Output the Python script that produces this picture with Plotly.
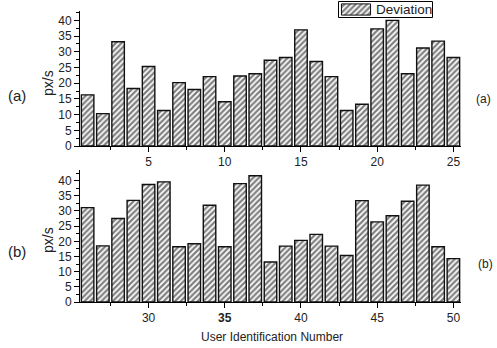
import plotly.graph_objects as go

# Data
users_a = list(range(1, 26))
dev_a = [16.3, 10.3, 33.2, 18.3, 25.3, 11.3, 20.2, 18.0, 22.1, 14.1,
         22.3, 23.0, 27.3, 28.2, 37.0, 26.9, 22.1, 11.3, 13.3, 37.3,
         40.0, 23.0, 31.2, 33.4, 28.2]
users_b = list(range(26, 51))
dev_b = [31.1, 18.5, 27.5, 33.5, 38.7, 39.6, 18.2, 19.2, 31.9, 18.2,
         39.0, 41.6, 13.2, 18.4, 20.3, 22.3, 18.4, 15.3, 33.4, 26.4,
         28.4, 33.2, 38.5, 18.2, 14.3]
ticks_a = [5, 10, 15, 20, 25]
ticks_b = [30, 35, 40, 45, 50]
ticktext_b = ["30", "<b>35</b>", "40", "45", "50"]
yticks = [0, 5, 10, 15, 20, 25, 30, 35, 40]
legend_name = "Deviation"
legend_key = [1]

FONT = "Liberation Sans, Arial, sans-serif"
W, H = 497, 348
ML, MR, MT, MB = 80, 36, 0, 46
PH = H - MT - MB
PW = W - ML - MR

def py(pix):
    return (H - MB - pix) / PH

def px(pix):
    return (pix - ML) / PW

pattern = dict(shape="/", fgcolor="black", bgcolor="white", size=4, solidity=0.55)
line = dict(color="#111", width=1.4)

fig = go.Figure()
fig.add_trace(go.Bar(x=users_a, y=dev_a, name=legend_name, width=0.82,
                     marker=dict(color="white", pattern=pattern, line=line),
                     xaxis="x", yaxis="y", showlegend=False))
fig.add_trace(go.Bar(x=users_b, y=dev_b, name=legend_name, width=0.82,
                     marker=dict(color="white", pattern=pattern, line=line),
                     xaxis="x2", yaxis="y2", showlegend=False))
# legend key swatch
fig.add_trace(go.Bar(x=[0], y=legend_key, width=1, name=legend_name,
                     marker=dict(color="white", pattern=pattern, line=dict(color="#111", width=1)),
                     xaxis="x3", yaxis="y3", showlegend=False, hoverinfo="skip"))

axcommon = dict(showline=True, linecolor="black", linewidth=1, ticks="outside",
                ticklen=5, tickcolor="black", tickwidth=1, showgrid=False,
                zeroline=False, tickfont=dict(family=FONT, size=12, color="#222"))
minor = dict(dtick=2.5, tick0=0, ticks="outside", ticklen=3, tickcolor="black")

fig.update_layout(
    width=W, height=H,
    margin=dict(l=ML, r=MR, t=MT, b=MB, autoexpand=False),
    paper_bgcolor="white", plot_bgcolor="rgba(0,0,0,0)",
    font=dict(family=FONT, size=12, color="#222"),
    showlegend=False,
    xaxis=dict(domain=[0, 1], range=[0.5, 25.5], anchor="y",
               tickvals=ticks_a, minor=minor, **axcommon),
    yaxis=dict(domain=[py(146), py(11)], range=[0, 43], anchor="x",
               tickvals=yticks, minor=minor, **axcommon),
    xaxis2=dict(domain=[0, 1], range=[25.5, 50.5], anchor="y2",
                tickvals=ticks_b, ticktext=ticktext_b, minor=minor, **axcommon),
    yaxis2=dict(domain=[0, py(170)], range=[0, 43.5], anchor="x2",
                tickvals=yticks, minor=minor, **axcommon),
    xaxis3=dict(domain=[px(340), px(372)], range=[-0.55, 0.55], visible=False,
                anchor="y3", fixedrange=True),
    yaxis3=dict(domain=[py(16), py(3)], range=[-0.08, 1.08], visible=False,
                anchor="x3", fixedrange=True),
)

# legend box
fig.add_shape(type="rect", xref="paper", yref="paper",
              x0=px(338.5), x1=px(432.5), y0=py(17.5), y1=py(1.5),
              line=dict(color="black", width=1), fillcolor="white", layer="below")

ann = [
    dict(text="(a)", x=px(17), y=py(96), size=15),
    dict(text="(a)", x=px(483), y=py(99), size=12),
    dict(text="(b)", x=px(17), y=py(251), size=15),
    dict(text="(b)", x=px(485), y=py(264), size=12),
    dict(text="px/s", x=px(48), y=py(83), size=14, angle=-90),
    dict(text="px/s", x=px(48), y=py(240), size=14, angle=-90),
    dict(text="User Identification Number", x=px(272), y=py(337), size=12),
]
for a in ann:
    fig.add_annotation(xref="paper", yref="paper", showarrow=False,
                       xanchor="center", yanchor="middle",
                       font=dict(family=FONT, color="#222", size=a["size"]),
                       text=a["text"], x=a["x"], y=a["y"],
                       textangle=a.get("angle", 0))
fig.add_annotation(xref="paper", yref="paper", showarrow=False,
                   xanchor="left", yanchor="middle", x=px(374), y=py(9.5),
                   text=legend_name, font=dict(family=FONT, color="#222", size=13.5))

fig.write_html("out.html")
